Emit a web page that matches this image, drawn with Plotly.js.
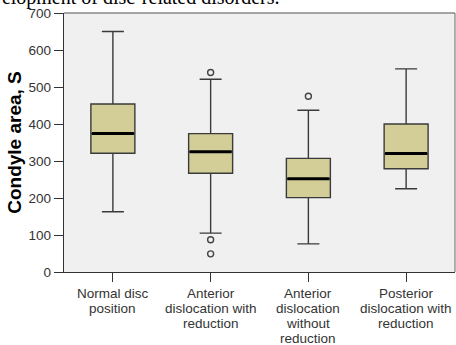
<!DOCTYPE html>
<html>
<head>
<meta charset="utf-8">
<script src="https://cdn.plot.ly/plotly-3.0.1.min.js"></script>
<style>html,body{margin:0;padding:0;background:#fff;}#chart{width:456px;height:345px;}</style>
</head>
<body>
<div id="chart"></div>
<script>
const categories = ["Normal disc<br>position", "Anterior<br>dislocation with<br>reduction", "Anterior<br>dislocation<br>without<br>reduction", "Posterior<br>dislocation with<br>reduction"];
const lowerWhisker = [163, 105, 76, 225];
const q1 = [321, 267, 201, 279];
const median = [374, 325, 252, 320];
const q3 = [454, 374, 307, 400];
const upperWhisker = [650, 521, 437, 549];
const outlierGroup = [1, 1, 1, 2];
const outlierValue = [539, 87, 49, 475];
const yTicks = [0, 100, 200, 300, 400, 500, 600, 700];

const pos = categories.map((c, i) => i);
const boxWidth = 0.45;

const traces = [{
  type: 'box',
  x: pos,
  q1: q1, median: median, q3: q3,
  lowerfence: lowerWhisker, upperfence: upperWhisker,
  width: boxWidth,
  whiskerwidth: 0.5,
  fillcolor: '#d3ce98',
  line: {color: '#3a3a3a', width: 1.4},
  boxpoints: false,
  hoverinfo: 'skip',
  showlegend: false
}];
pos.forEach((p, i) => {
  traces.push({
    type: 'scatter', mode: 'lines',
    x: [p - boxWidth / 2 + 0.01, p + boxWidth / 2 - 0.01],
    y: [median[i], median[i]],
    line: {color: '#000', width: 3},
    hoverinfo: 'skip', showlegend: false
  });
});
traces.push({
  type: 'scatter', mode: 'markers',
  x: outlierGroup, y: outlierValue,
  marker: {symbol: 'circle-open', size: 6, color: '#444', line: {width: 1.4, color: '#444'}},
  hoverinfo: 'skip', showlegend: false
});

// x category labels, one text line per annotation for tight line spacing
const labelAnnotations = [];
categories.forEach((c, i) => {
  c.split('<br>').forEach((line, k) => {
    labelAnnotations.push({
      text: line, xref: 'x', yref: 'paper', x: pos[i], y: 0,
      xanchor: 'center', yanchor: 'middle', yshift: -21 - 15 * k,
      showarrow: false,
      font: {family: 'Liberation Sans, Arial, sans-serif', size: 13.5, color: '#333'}
    });
  });
});

const layout = {
  width: 456, height: 345,
  margin: {l: 64, r: 1, t: 13, b: 73},
  paper_bgcolor: '#fff',
  plot_bgcolor: '#f0f0f0',
  font: {family: 'Liberation Sans, Arial, sans-serif', size: 13, color: '#333'},
  xaxis: {
    range: [-0.5, 3.5],
    tickvals: pos, showticklabels: false,
    ticks: 'outside', ticklen: 9, tickcolor: '#333', tickwidth: 1,
    showgrid: false, zeroline: false,
    showline: true, linecolor: '#333', linewidth: 1.3, mirror: false
  },
  yaxis: {
    range: [0, 700],
    tickvals: yTicks,
    ticks: 'outside', ticklen: 9, tickcolor: '#333', tickwidth: 1,
    showgrid: false, zeroline: false,
    showline: true, linecolor: '#333', linewidth: 1.3,
    tickfont: {size: 13.5, color: '#333'},
    title: {text: '<b>Condyle area, S</b>', font: {size: 19, color: '#000'}, standoff: 1}
  },
  shapes: [
    {type: 'line', xref: 'paper', yref: 'paper', x0: 0, x1: 1, y0: 1, y1: 1, line: {color: '#888', width: 1.3}},
    {type: 'line', xref: 'paper', yref: 'paper', x0: 1, x1: 1, y0: 0, y1: 1, line: {color: '#888', width: 1.3}}
  ],
  annotations: [{
    text: 'development of disc-related disorders.',
    xref: 'paper', yref: 'paper', x: -0.238, y: 1.006,
    xanchor: 'left', yanchor: 'bottom', showarrow: false,
    font: {family: 'Liberation Serif, Times New Roman, serif', size: 20, color: '#000'}
  }].concat(labelAnnotations)
};

Plotly.newPlot('chart', traces, layout, {displayModeBar: false, staticPlot: true});
</script>
</body>
</html>
